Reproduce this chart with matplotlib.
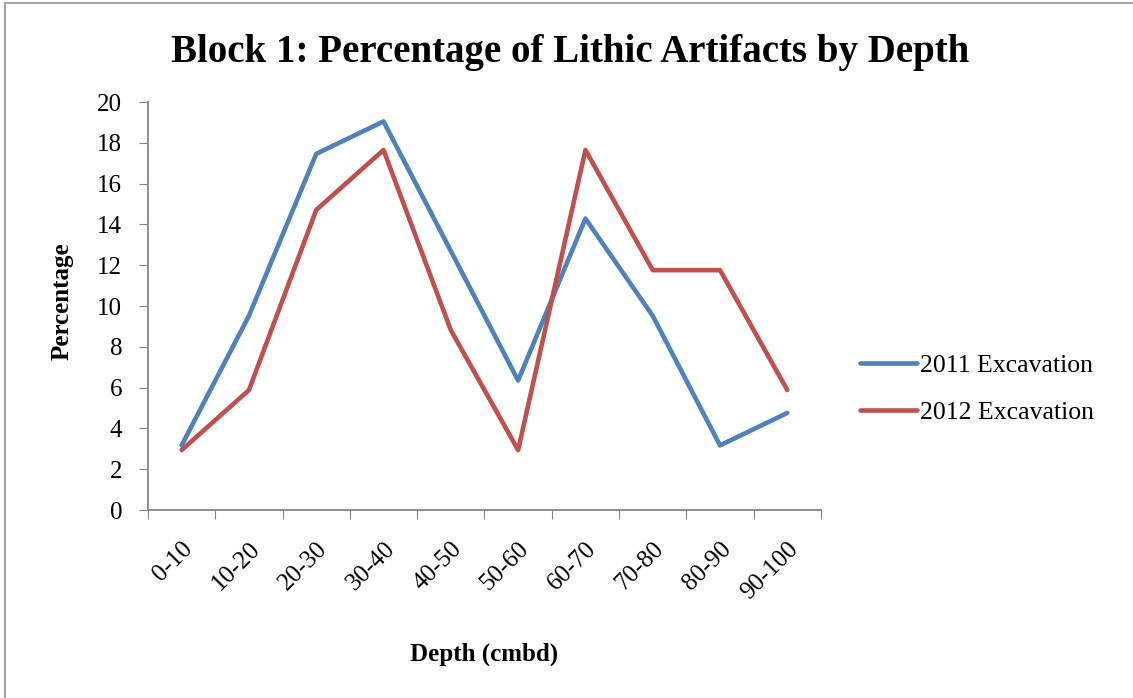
import matplotlib.pyplot as plt
from matplotlib.lines import Line2D

depths = ["0-10", "10-20", "20-30", "30-40", "40-50",
          "50-60", "60-70", "70-80", "80-90", "90-100"]
pct_2011 = [3.17, 9.52, 17.46, 19.05, 12.70, 6.35, 14.29, 9.52, 3.17, 4.76]
pct_2012 = [2.94, 5.88, 14.71, 17.65, 8.82, 2.94, 17.65, 11.76, 11.76, 5.88]
y_ticks = [0, 2, 4, 6, 8, 10, 12, 14, 16, 18, 20]


def main():
    plt.rcParams['font.family'] = ['Liberation Serif', 'DejaVu Serif']
    fig = plt.figure(figsize=(11.33, 6.98), dpi=100)
    ax = fig.add_axes([0.1306, 0.2693, 0.594, 0.5845])

    x = list(range(len(depths)))
    ax.plot(x, pct_2011, color='#4F81BD', lw=3.3, solid_capstyle='round',
            label="2011 Excavation")
    ax.plot(x, pct_2012, color='#C0504D', lw=3.3, solid_capstyle='round',
            label="2012 Excavation")

    ax.set_xlim(-0.5, len(depths) - 0.5)
    ax.set_ylim(0, 20)
    ax.set_yticks(y_ticks)
    ax.set_yticklabels([str(v) for v in y_ticks], fontsize=18)
    ax.set_xticks([i + 0.5 for i in range(-1, len(depths))])
    ax.set_xticklabels([])
    ax.set_xticks(x, minor=True)
    ax.set_xticklabels(depths, minor=True, rotation=45, ha='right',
                       rotation_mode='anchor', fontsize=18)
    ax.tick_params(axis='x', which='minor', length=0, pad=20)
    ax.tick_params(axis='x', which='major', length=6.5, color='#868686')
    ax.tick_params(axis='y', length=6.5, color='#868686', pad=12)

    for s in ['top', 'right']:
        ax.spines[s].set_visible(False)
    for s in ['left', 'bottom']:
        ax.spines[s].set_color('#868686')
        ax.spines[s].set_linewidth(1.3)

    fig.text(0.503, 0.925, "Block 1: Percentage of Lithic Artifacts by Depth",
             ha='center', va='center', fontsize=28, fontweight='bold')
    fig.text(0.055, 0.568, "Percentage", rotation=90, ha='center',
             va='center', fontsize=18, fontweight='bold')
    fig.text(0.427, 0.062, "Depth (cmbd)", ha='center', va='center',
             fontsize=18, fontweight='bold')

    fig.legend(loc='center left', bbox_to_anchor=(0.739, 0.443),
               frameon=False, fontsize=18.5, handlelength=2.2,
               handletextpad=0.1, labelspacing=0.95)

    # partial frame of the original chart area (top and left edges only)
    fig.lines.append(Line2D([0.0045, 0.0045], [0.0, 0.995],
                            transform=fig.transFigure, color='#A6A6A6', lw=1.5))
    fig.lines.append(Line2D([0.0045, 1.0], [0.995, 0.995],
                            transform=fig.transFigure, color='#A6A6A6', lw=1.5))

    fig.savefig("out.png", dpi=100)


if __name__ == '__main__':
    main()
